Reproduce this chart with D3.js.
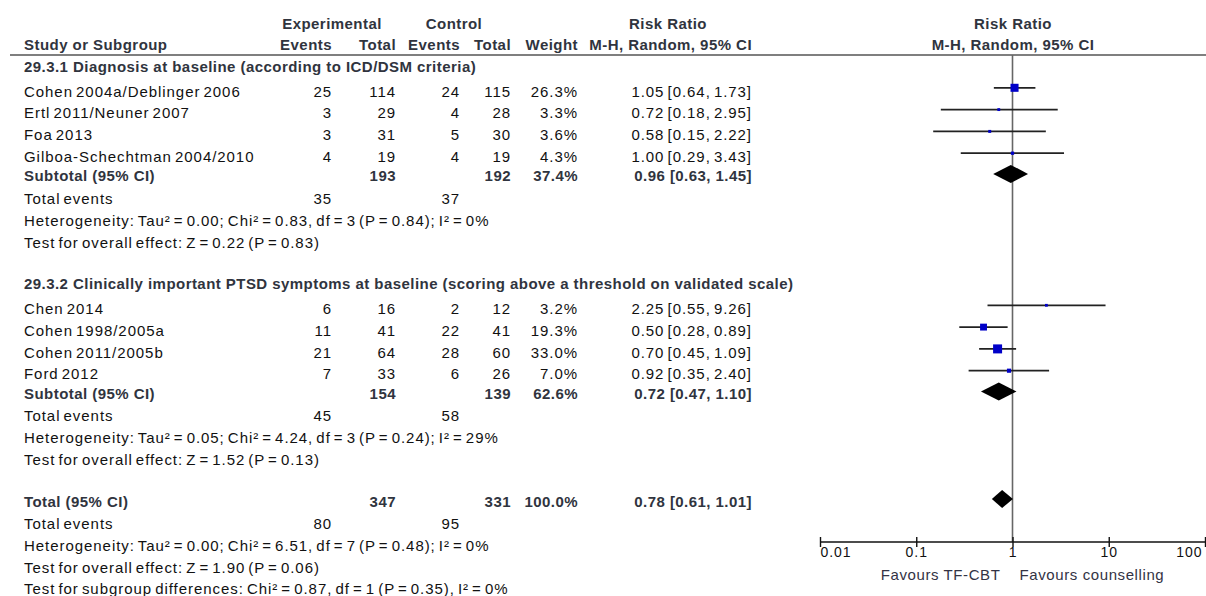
<!DOCTYPE html>
<html><head><meta charset="utf-8">
<script src="https://cdn.jsdelivr.net/npm/d3@7"></script>
<style>
html,body{margin:0;padding:0;background:#fff;}
svg{display:block;}
.reg{font-family:"Liberation Sans",Arial,sans-serif;font-size:15px;letter-spacing:0.95px;word-spacing:-2px;fill:#111;}
.bold{font-family:"Liberation Sans",Arial,sans-serif;font-size:15px;font-weight:bold;letter-spacing:0.45px;fill:#30343e;}
</style></head>
<body>
<svg id="chart" width="1206" height="596"></svg>
<script>
// ---------- DATA ----------
const groupTitles = ["29.3.1 Diagnosis at baseline (according to ICD/DSM criteria)",
  "29.3.2 Clinically important PTSD symptoms at baseline (scoring above a threshold on validated scale)"];
const studies = ["Cohen 2004a/Deblinger 2006","Ertl 2011/Neuner 2007","Foa 2013","Gilboa-Schechtman 2004/2010",
  "Chen 2014","Cohen 1998/2005a","Cohen 2011/2005b","Ford 2012"];
const studyGroup = [0,0,0,0,1,1,1,1];
const expEvents = [25,3,3,4,6,11,21,7];
const expTotal  = [114,29,31,19,16,41,64,33];
const ctlEvents = [24,4,5,4,2,22,28,6];
const ctlTotal  = [115,28,30,19,12,41,60,26];
const weights   = [26.3,3.3,3.6,4.3,3.2,19.3,33.0,7.0];
const rr        = [1.05,0.72,0.58,1.00,2.25,0.50,0.70,0.92];
const rrLow     = [0.64,0.18,0.15,0.29,0.55,0.28,0.45,0.35];
const rrHigh    = [1.73,2.95,2.22,3.43,9.26,0.89,1.09,2.40];

const subExpTotal  = [193,154];
const subCtlTotal  = [192,139];
const subWeight    = [37.4,62.6];
const subRR        = [0.96,0.72];
const subLow       = [0.63,0.47];
const subHigh      = [1.45,1.10];
const subExpEvents = [35,45];
const subCtlEvents = [37,58];
const subHetero = ["Heterogeneity: Tau\u00b2 = 0.00; Chi\u00b2 = 0.83, df = 3 (P = 0.84); I\u00b2 = 0%",
  "Heterogeneity: Tau\u00b2 = 0.05; Chi\u00b2 = 4.24, df = 3 (P = 0.24); I\u00b2 = 29%"];
const subEffect = ["Test for overall effect: Z = 0.22 (P = 0.83)","Test for overall effect: Z = 1.52 (P = 0.13)"];

const totalExp = 347, totalCtl = 331, totalWeight = 100.0;
const totalRR = 0.78, totalLow = 0.61, totalHigh = 1.01;
const totalExpEvents = 80, totalCtlEvents = 95;
const totalTexts = ["Heterogeneity: Tau\u00b2 = 0.00; Chi\u00b2 = 6.51, df = 7 (P = 0.48); I\u00b2 = 0%",
  "Test for overall effect: Z = 1.90 (P = 0.06)",
  "Test for subgroup differences: Chi\u00b2 = 0.87, df = 1 (P = 0.35), I\u00b2 = 0%"];

const axisTicks = [0.01,0.1,1,10,100];
const axisTickLabels = ["0.01","0.1","1","10","100"];
const favoursLeft = "Favours TF-CBT", favoursRight = "Favours counselling";

// ---------- LAYOUT ----------
const svg = d3.select("#chart");
const x = d3.scaleLog().domain([0.01,100]).range([820,1205]);
const sq = d3.scaleSqrt().domain([0,33]).range([0,9]);
const col = {name:24, expE:332, expT:396, ctlE:460, ctlT:511, w:578, ci:752};
const fmtCI = (m,l,h)=> `${m.toFixed(2)} [${l.toFixed(2)}, ${h.toFixed(2)}]`;
const fmtW = w => w.toFixed(1)+"%";

// build rows
const rows = [];
let y = 71.5;
const LH = 21.8;
[0,1].forEach(g=>{
  rows.push({type:"ghead", g, y});
  y += 25;
  studies.forEach((s,i)=>{ if(studyGroup[i]===g){ rows.push({type:"study", i, y}); y += LH; } });
  y -= LH; y += 19.5;
  rows.push({type:"sub", g, y}); y += 22.5;
  rows.push({type:"events", g, y}); y += LH;
  rows.push({type:"het", g, y}); y += LH;
  rows.push({type:"eff", g, y}); y += 41.5;
});
rows.push({type:"total", y}); y += 22.5;
rows.push({type:"tevents", y}); y += LH;
totalTexts.forEach(t=>{ rows.push({type:"ttext", t, y}); y += LH; });

function txt(cls, xx, yy, s, anchor){
  svg.append("text").attr("class",cls).attr("x",xx).attr("y",yy)
    .attr("text-anchor",anchor||"start").text(s);
}

// header
const h1 = 29.3, h2 = 50;
txt("bold",332,h1,"Experimental","middle");
txt("bold",454,h1,"Control","middle");
txt("bold",668,h1,"Risk Ratio","middle");
txt("bold",1013,h1,"Risk Ratio","middle");
txt("bold",24,h2,"Study or Subgroup");
txt("bold",col.expE,h2,"Events","end");
txt("bold",col.expT,h2,"Total","end");
txt("bold",col.ctlE,h2,"Events","end");
txt("bold",col.ctlT,h2,"Total","end");
txt("bold",col.w,h2,"Weight","end");
txt("bold",col.ci,h2,"M-H, Random, 95% CI","end");
txt("bold",1013,h2,"M-H, Random, 95% CI","middle");

svg.append("line").attr("x1",10).attr("x2",1206).attr("y1",55).attr("y2",55)
  .attr("stroke","#555").attr("stroke-width",1.6);

// null line
const axisY = 542;
svg.append("line").attr("x1",x(1)).attr("x2",x(1)).attr("y1",55).attr("y2",axisY)
  .attr("stroke","#666").attr("stroke-width",1.6);

function diamond(m,l,h,yc){
  const hh = 9;
  svg.append("path").attr("d",`M${x(l)},${yc} L${x(m)},${yc-hh} L${x(h)},${yc} L${x(m)},${yc+hh} Z`)
    .attr("fill","#000");
}

rows.forEach(r=>{
  if(r.type==="ghead") txt("bold",24,r.y,groupTitles[r.g]);
  else if(r.type==="study"){
    const i=r.i;
    txt("reg",col.name,r.y,studies[i]);
    txt("reg",col.expE,r.y,expEvents[i],"end");
    txt("reg",col.expT,r.y,expTotal[i],"end");
    txt("reg",col.ctlE,r.y,ctlEvents[i],"end");
    txt("reg",col.ctlT,r.y,ctlTotal[i],"end");
    txt("reg",col.w,r.y,fmtW(weights[i]),"end");
    txt("reg",col.ci,r.y,fmtCI(rr[i],rrLow[i],rrHigh[i]),"end");
    const yc = r.y-8.7;
    svg.append("line").attr("x1",x(rrLow[i])).attr("x2",x(rrHigh[i])).attr("y1",yc).attr("y2",yc)
      .attr("stroke","#222").attr("stroke-width",1.8);
    const s = Math.max(sq(weights[i]),2.6);
    svg.append("rect").attr("x",x(rr[i])-s/2).attr("y",yc-s/2).attr("width",s).attr("height",s)
      .attr("fill","#0000c8");
  } else if(r.type==="sub"){
    const g=r.g;
    txt("bold",col.name,r.y,"Subtotal (95% CI)");
    txt("bold",col.expT,r.y,subExpTotal[g],"end");
    txt("bold",col.ctlT,r.y,subCtlTotal[g],"end");
    txt("bold",col.w,r.y,fmtW(subWeight[g]),"end");
    txt("bold",col.ci,r.y,fmtCI(subRR[g],subLow[g],subHigh[g]),"end");
    diamond(subRR[g],subLow[g],subHigh[g],r.y-7.5);
  } else if(r.type==="events"){
    txt("reg",col.name,r.y,"Total events");
    txt("reg",col.expE,r.y,subExpEvents[r.g],"end");
    txt("reg",col.ctlE,r.y,subCtlEvents[r.g],"end");
  } else if(r.type==="het") txt("reg",col.name,r.y,subHetero[r.g]);
  else if(r.type==="eff") txt("reg",col.name,r.y,subEffect[r.g]);
  else if(r.type==="total"){
    txt("bold",col.name,r.y,"Total (95% CI)");
    txt("bold",col.expT,r.y,totalExp,"end");
    txt("bold",col.ctlT,r.y,totalCtl,"end");
    txt("bold",col.w,r.y,fmtW(totalWeight),"end");
    txt("bold",col.ci,r.y,fmtCI(totalRR,totalLow,totalHigh),"end");
    diamond(totalRR,totalLow,totalHigh,r.y-7.5);
  } else if(r.type==="tevents"){
    txt("reg",col.name,r.y,"Total events");
    txt("reg",col.expE,r.y,totalExpEvents,"end");
    txt("reg",col.ctlE,r.y,totalCtlEvents,"end");
  } else if(r.type==="ttext") txt("reg",col.name,r.y,r.t);
});

// axis
const ax = svg.append("g").attr("transform",`translate(0,${axisY})`)
  .call(d3.axisBottom(x).tickValues(axisTicks).tickSize(4).tickSizeOuter(0).tickFormat((d,i)=>axisTickLabels[i]));
ax.select(".domain").attr("stroke","#111").attr("stroke-width",1.6).attr("d",`M${x(0.01)},0H1206`);
ax.selectAll(".tick line").attr("stroke","#111").attr("stroke-width",1.4).attr("y1",-5).attr("y2",5);
ax.selectAll(".tick text").attr("class","reg").attr("y",15).attr("dy","0")
  .style("font-size","14px").attr("fill","#111")
  .attr("text-anchor",(d,i)=> i===0?"start":(i===axisTicks.length-1?"end":"middle"));
ax.select(".tick text").attr("x",0);
ax.selectAll(".tick").filter((d,i)=>i===axisTicks.length-1).select("text").attr("x",-3);

svg.append("text").attr("class","reg").attr("x",x(1)-12).attr("y",580).attr("text-anchor","end")
  .style("fill","#333344").style("letter-spacing","0.6px").style("word-spacing","0px").text(favoursLeft);
svg.append("text").attr("class","reg").attr("x",x(1)+7).attr("y",580).attr("text-anchor","start")
  .style("fill","#333344").style("letter-spacing","0.6px").style("word-spacing","0px").text(favoursRight);
</script>
</body></html>
